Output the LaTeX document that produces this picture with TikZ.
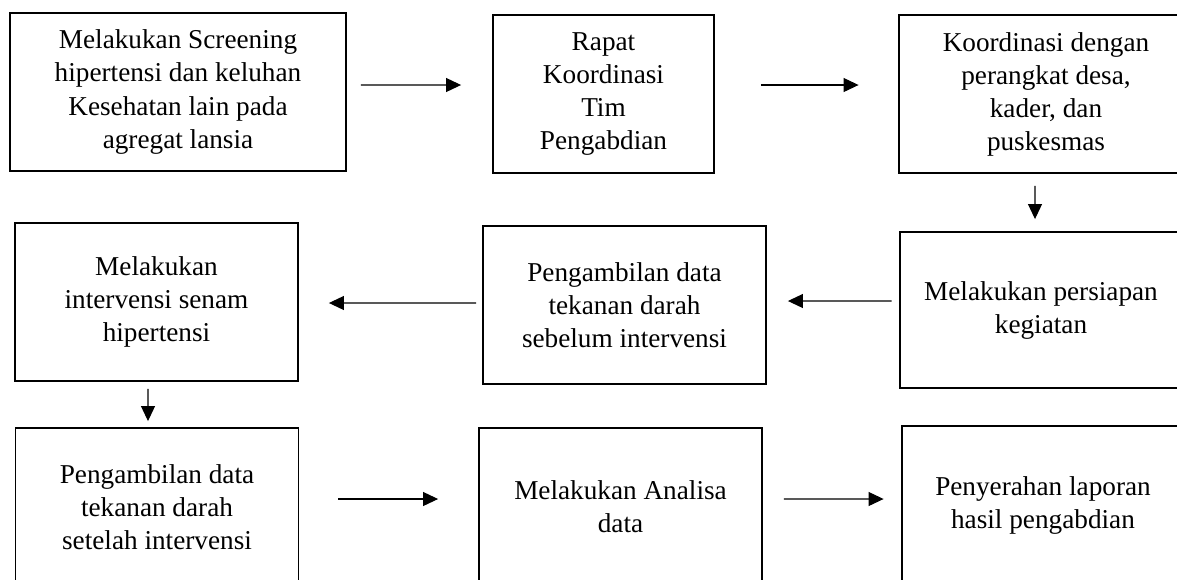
\documentclass[tikz,border=0pt]{standalone}
\usepackage{fontspec}
\setmainfont{Liberation Serif}
\usetikzlibrary{arrows.meta}
\tikzset{
  stepbox/.style={draw, line width=1.1pt, align=center, inner sep=0pt,
    minimum width=5.66cm, minimum height=3.16cm,
    font=\fontsize{15.5}{18.8}\selectfont},
  flow/.style={-{Triangle[length=0.3cm,width=0.28cm]}, line width=0.6pt}
}
\begin{document}
\begin{tikzpicture}[x=0.02cm, y=-0.02cm]
    \useasboundingbox (0,0) rectangle (1177,579);
    \clip (0,0) rectangle (1177,579);

    % Row 1
    \node[stepbox, minimum width=6.72cm] (screening) at (178,92) {Melakukan Screening\\hipertensi dan keluhan\\Kesehatan lain pada\\agregat lansia};
    \node[stepbox, minimum width=4.42cm] (rapat) at (603.5,94) {Rapat\\Koordinasi\\Tim\\Pengabdian};
    \node[stepbox, minimum width=5.9cm] (koordinasi) at (1046,94) {Koordinasi dengan\\perangkat desa,\\kader, dan\\puskesmas};

    % Row 2
    \node[stepbox, minimum height=3.12cm] (persiapan) at (1041,310) {Melakukan persiapan\\kegiatan};
    \node[stepbox] (sebelum) at (624.5,305) {Pengambilan data\\tekanan darah\\sebelum intervensi};
    \node[stepbox] (senam) at (156.5,302) {Melakukan\\intervensi senam\\hipertensi};

    % Row 3
    \node[stepbox] (setelah) at (157,507) {Pengambilan data\\tekanan darah\\setelah intervensi};
    \node[stepbox] (analisa) at (620.5,507) {Melakukan Analisa\\data};
    \node[stepbox] (laporan) at (1043,505) {Penyerahan laporan\\hasil pengabdian};

    % Connections
    \draw[flow, shorten <=0.28cm, shorten >=0.62cm] ([yshift=0.14cm]screening.east) -- ([yshift=0.18cm]rapat.west);
    \draw[flow, shorten <=0.92cm, shorten >=0.78cm] ([yshift=0.18cm]rapat.east) -- ([yshift=0.18cm]koordinasi.west);
    \draw[flow, shorten <=0.24cm, shorten >=0.24cm] ([xshift=-0.22cm]koordinasi.south) -- ([xshift=-0.12cm]persiapan.north);
    \draw[flow, shorten <=0.14cm, shorten >=0.42cm] ([yshift=0.18cm]persiapan.west) -- ([yshift=0.08cm]sebelum.east);
    \draw[flow, shorten <=0.12cm, shorten >=0.6cm] ([yshift=0.04cm]sebelum.west) -- ([yshift=-0.02cm]senam.east);
    \draw[flow, shorten <=0.14cm, shorten >=0.12cm] ([xshift=-0.17cm]senam.south) -- ([xshift=-0.18cm]setelah.north);
    \draw[flow, shorten <=0.78cm, shorten >=0.8cm] ([yshift=0.16cm]setelah.east) -- ([yshift=0.16cm]analisa.west);
    \draw[flow, shorten <=0.42cm, shorten >=0.34cm] ([yshift=0.16cm]analisa.east) -- ([yshift=0.12cm]laporan.west);
\end{tikzpicture}
\end{document}
